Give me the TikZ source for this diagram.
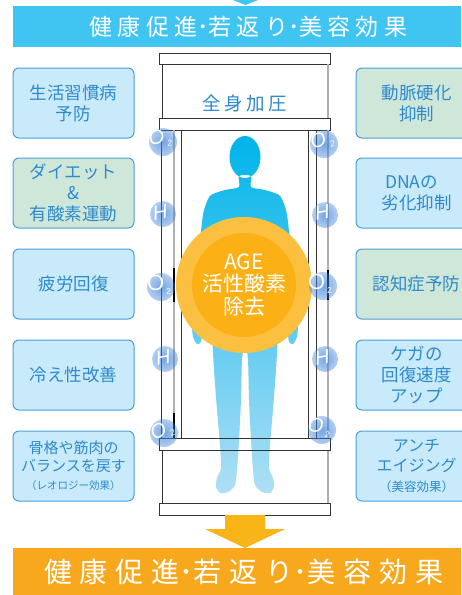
\documentclass[tikz,border=0pt]{standalone}
\usepackage{fontspec}
\newfontfamily\jp{Noto Sans CJK JP}
\newfontfamily\lab{Liberation Sans}
\usetikzlibrary{fadings}
\definecolor{banner}{HTML}{40C4F1}
\definecolor{orbanner}{HTML}{F8A81C}
\definecolor{arrowor}{HTML}{F9B418}
\definecolor{boxblue}{HTML}{C9EAFB}
\definecolor{boxgreen}{HTML}{CFE7D8}
\definecolor{boxline}{HTML}{4A9FDB}
\definecolor{boxtext}{HTML}{2D8ACD}
\definecolor{framedark}{HTML}{333333}
\definecolor{framegray}{HTML}{B0B0B0}
\definecolor{figtop}{HTML}{00B4EA}
\definecolor{figbot}{HTML}{AEDFF6}
\definecolor{agecol}{HTML}{FBB016}
\definecolor{glowor}{HTML}{FCC040}
\definecolor{glowblue}{HTML}{3A80D8}
\pgfdeclareradialshading{glowsh}{\pgfpointorigin}{color(0bp)=(white); color(39bp)=(white); color(42bp)=(white!75!black); color(50bp)=(black)}
\pgfdeclarefading{glowfade}{\pgfuseshading{glowsh}}
\pgfdeclareradialshading{softsh}{\pgfpointorigin}{color(0bp)=(white!70!black); color(20bp)=(white!45!black); color(50bp)=(black)}
\pgfdeclarefading{softfade}{\pgfuseshading{softsh}}
\newcommand\gsub[1]{\kern2pt\raisebox{-4pt}{\fontsize{8.5}{9}\selectfont #1}}
\newcommand\tc[1]{\makebox[28.5pt]{#1}}
\newcommand\bc[1]{\makebox[36pt]{#1}}
\newcommand\pc[1]{\makebox[22pt]{#1}}
\tikzset{
  bbox/.style={draw=boxline, line width=1pt, rounded corners=6pt, fill=boxblue,
    minimum width=121pt, minimum height=70pt, text=boxtext, align=center, inner sep=0pt,
    font=\jp\fontsize{17.5}{21}\selectfont},
  gbox/.style={bbox, fill=boxgreen},
  rail/.style={draw=framedark, line width=0.9pt, fill=white},
  thinline/.style={draw=framedark, line width=0.8pt},
  grayline/.style={draw=framegray, line width=2.5pt},
  darkseg/.style={draw=black, line width=2.5pt},
  bglow/.style={fill=glowblue, path fading=softfade, fit fading=true},
  gaslabel/.style={text=white, inner sep=0pt, font=\lab\fontsize{20}{20}\selectfont},
}
\begin{document}
\begin{tikzpicture}[x=1pt,y=-1pt]
\useasboundingbox (0,0) rectangle (461,595);
\fill[white] (0,0) rectangle (461,595);
% top banner
\fill[banner] (233,0) -- (258,0) -- (245.5,5) -- cycle;
\fill[banner] (13,6) rectangle (461,47);
\node[text=white, inner sep=0pt, font=\jp\fontsize{23}{23}\selectfont] (toptitle) at (248.5,26.5)
  {\tc{健}\tc{康}\tc{促}\tc{進}\makebox[5pt]{･}\tc{若}\tc{返}\tc{り}\makebox[5pt]{･}\tc{美}\tc{容}\tc{効}\tc{果}};
% left boxes
\node[bbox] (l1) at (73.5,103) {生活習慣病\\予防};
\node[gbox] (l2) at (73.5,193) {ダイエット\\\&\\有酸素運動};
\node[bbox] (l3) at (73.5,284) {疲労回復};
\node[bbox] (l4) at (73.5,375) {冷え性改善};
\node[bbox, font=\jp\fontsize{15}{18}\selectfont] (l5) at (73.5,466) {骨格や筋肉の\\バランスを戻す\\{\fontsize{10.5}{16}\selectfont （レオロジー効果）}};
% right boxes
\node[gbox] (r1) at (416.5,103) {動脈硬化\\抑制};
\node[bbox] (r2) at (416.5,193) {DNAの\kern10pt\\劣化抑制};
\node[gbox] (r3) at (416.5,284) {認知症予防};
\node[bbox] (r4) at (416.5,375) {ケガの\\回復速度\\アップ};
\node[bbox, font=\jp\fontsize{16}{20}\selectfont] (r5) at (416.5,466) {アンチ\\エイジング\\{\fontsize{12.5}{17}\selectfont （美容効果）}};
% chamber
\draw[rail] (159,53) rectangle (330,64);
\draw[thinline] (162,64) -- (162,118);
\draw[draw=framegray, line width=1.2pt] (328,64) -- (328,118);
\draw[rail] (159,118) rectangle (330,130);
\node[text=boxtext, inner sep=0pt, font=\jp\fontsize{18.5}{18.5}\selectfont] (press) at (245,103) {\pc{全}\pc{身}\pc{加}\pc{圧}};
\draw[thinline] (161.5,130) -- (161.5,438);
\draw[grayline] (174,130) -- (174,438);
\draw[thinline] (181.5,130) -- (181.5,438);
\draw[darkseg] (174,268) -- (174,302);
\draw[darkseg] (174,413) -- (174,438);
\draw[thinline] (308,130) -- (308,438);
\draw[thinline] (316,130) -- (316,438);
\draw[grayline] (328,130) -- (328,438);
\draw[darkseg] (328,270) -- (328,300);
\draw[thinline] (181.5,278) -- (308,278) (181.5,291) -- (308,291);
\draw[draw=black, line width=2pt] (307,278) -- (307,291);
\draw[thinline] (162,450) -- (162,503);
\draw[draw=framegray, line width=1.2pt] (328,450) -- (328,503);
\draw[rail] (159,503) rectangle (330,515);
% figure
\shade[top color=figtop, bottom color=figbot]
  (245,157) ellipse (15.5 and 21)
  plot[smooth cycle, tension=0.45] coordinates {
   (239,176) (239,187) (225,190) (211,195) (206,204) (203,215) (200,240) (197,270)
   (194,300) (192,322) (193,337) (197,344) (201,342) (202,332) (201,320) (204,300)
   (207,285) (210,305) (212,335) (214,370) (217,410) (220,445) (221,468) (217,478)
   (216,487) (220,493) (228,492) (235,485) (237,470) (239,440) (241,400) (242,360)
   (245,343)
   (248,360) (249,400) (251,440) (253,470) (255,485) (262,492) (270,493) (274,487)
   (273,478) (269,468) (270,445) (273,410) (276,370) (278,335) (280,305) (283,285)
   (286,300) (289,320) (288,332) (289,342) (293,344) (297,337) (298,322) (296,300)
   (293,270) (290,240) (287,215) (284,204) (279,195) (265,190) (251,187) (251,176)};
\draw[draw=framedark, line width=0.9pt] (159,438) rectangle (330,450);
% AGE circle
\fill[glowor, path fading=glowfade, fit fading=true] (244,285) circle (68);
\fill[agecol] (244,285) circle (52);
\node[text=white, align=center, inner sep=0pt, font=\jp\fontsize{21}{22.5}\selectfont] (age) at (244,285) {AGE\\活性酸素\\除去};
% gas labels
\fill[bglow] (163,142) circle (14);
\fill[bglow] (163,214) circle (13);
\fill[bglow] (161,287) circle (14);
\fill[bglow] (165,359) circle (13);
\fill[bglow] (164,433) circle (14);
\fill[bglow] (324,144) circle (14);
\fill[bglow] (325,215) circle (13);
\fill[bglow] (323,286) circle (14);
\fill[bglow] (325,359) circle (13);
\fill[bglow] (322,430) circle (14);
\node[gaslabel, rotate=10] (gl1) at (160,139) {\itshape O\gsub{2}};
\node[gaslabel, rotate=10] (gl2) at (160,212) {\itshape H};
\node[gaslabel, font=\lab\fontsize{22}{22}\selectfont] (gl3) at (159,285) {O\gsub{2}};
\node[gaslabel, rotate=10] (gl4) at (163,357) {\itshape H};
\node[gaslabel, rotate=25] (gl5) at (162,431) {\itshape O\gsub{2}};
\node[gaslabel, rotate=20] (gr1) at (322,141) {\itshape O\gsub{2}};
\node[gaslabel, rotate=10] (gr2) at (322,212) {\itshape H};
\node[gaslabel, font=\lab\fontsize{22}{22}\selectfont] (gr3) at (320,284) {O\gsub{2}};
\node[gaslabel, rotate=10] (gr4) at (322,357) {\itshape H};
\node[gaslabel, rotate=-5] (gr5) at (319,428) {\itshape O\gsub{2}};
% arrow
\fill[arrowor] (225,515) -- (265,515) -- (265,529) -- (285,529) -- (245,548) -- (205,529) -- (225,529) -- cycle;
% bottom banner
\fill[orbanner] (13,548) rectangle (461,595);
\node[text=white, inner sep=0pt, font=\jp\fontsize{28}{28}\selectfont] (bottitle) at (244,572)
  {\bc{健}\bc{康}\bc{促}\bc{進}\makebox[6pt]{･}\bc{若}\bc{返}\bc{り}\makebox[6pt]{･}\bc{美}\bc{容}\bc{効}\bc{果}};
\end{tikzpicture}
\end{document}
